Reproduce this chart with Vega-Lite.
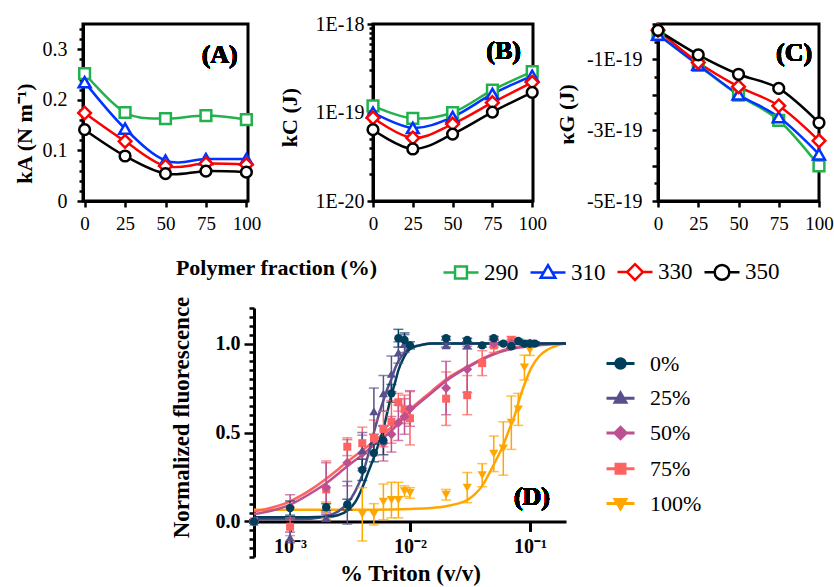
{
  "$schema": "https://vega.github.io/schema/vega-lite/v6.json",
  "padding": {"left": 11, "top": 12, "right": 0, "bottom": 0},
  "background": "white",
  "config": {
    "font": "Liberation Serif",
    "style": {"guide-label": {"font": "Liberation Serif"}, "guide-title": {"font": "Liberation Serif"}},
    "axis": {"domainColor": "black", "tickColor": "black", "labelColor": "black", "titleColor": "black", "grid": false, "labelOverlap": false, "labelFlush": false, "labelBound": false, "labelFont": "Liberation Serif", "titleFont": "Liberation Serif"},
    "legend": {"labelFont": "Liberation Serif", "labelColor": "black", "padding": 0, "symbolOpacity": 1}
  },
  "datasets": {
    "top": [
      {"T": "290", "p": 0, "kA": 0.252, "kC": 1.19e-19, "kG": -3.0e-20},
      {"T": "290", "p": 25, "kA": 0.175, "kC": 8.6e-20, "kG": -1.17e-19},
      {"T": "290", "p": 50, "kA": 0.163, "kC": 1.0e-19, "kG": -2.01e-19},
      {"T": "290", "p": 75, "kA": 0.169, "kC": 1.79e-19, "kG": -2.72e-19},
      {"T": "290", "p": 100, "kA": 0.161, "kC": 2.9e-19, "kG": -4.01e-19},
      {"T": "310", "p": 0, "kA": 0.235, "kC": 1.0e-19, "kG": -3.0e-20},
      {"T": "310", "p": 25, "kA": 0.143, "kC": 6.7e-20, "kG": -1.15e-19},
      {"T": "310", "p": 50, "kA": 0.080, "kC": 8.9e-20, "kG": -1.99e-19},
      {"T": "310", "p": 75, "kA": 0.083, "kC": 1.62e-19, "kG": -2.63e-19},
      {"T": "310", "p": 100, "kA": 0.083, "kC": 2.6e-19, "kG": -3.68e-19},
      {"T": "330", "p": 0, "kA": 0.174, "kC": 8.7e-20, "kG": -1.8e-20},
      {"T": "330", "p": 25, "kA": 0.118, "kC": 5.15e-20, "kG": -1.086e-19},
      {"T": "330", "p": 50, "kA": 0.069, "kC": 7.4e-20, "kG": -1.77e-19},
      {"T": "330", "p": 75, "kA": 0.074, "kC": 1.29e-19, "kG": -2.31e-19},
      {"T": "330", "p": 100, "kA": 0.072, "kC": 2.19e-19, "kG": -3.3e-19},
      {"T": "350", "p": 0, "kA": 0.141, "kC": 6.4e-20, "kG": -1.8e-20},
      {"T": "350", "p": 25, "kA": 0.089, "kC": 3.87e-20, "kG": -8.7e-20},
      {"T": "350", "p": 50, "kA": 0.054, "kC": 5.7e-20, "kG": -1.42e-19},
      {"T": "350", "p": 75, "kA": 0.059, "kC": 1.01e-19, "kG": -1.82e-19},
      {"T": "350", "p": 100, "kA": 0.057, "kC": 1.69e-19, "kG": -2.79e-19}
    ],
    "pts": [
      {"pf": "100%", "x": 0.002, "y": 0.06, "err": 0.05},
      {"pf": "100%", "x": 0.004, "y": 0.04, "err": 0.15},
      {"pf": "100%", "x": 0.005, "y": 0.04, "err": 0.06},
      {"pf": "100%", "x": 0.006, "y": 0.11, "err": 0.1},
      {"pf": "100%", "x": 0.007, "y": 0.12, "err": 0.1},
      {"pf": "100%", "x": 0.008, "y": 0.12, "err": 0.1},
      {"pf": "100%", "x": 0.009, "y": 0.17, "err": 0.03},
      {"pf": "100%", "x": 0.01, "y": 0.16, "err": 0.03},
      {"pf": "100%", "x": 0.02, "y": 0.15, "err": 0.03},
      {"pf": "100%", "x": 0.03, "y": 0.19, "err": 0.085},
      {"pf": "100%", "x": 0.04, "y": 0.26, "err": 0.065},
      {"pf": "100%", "x": 0.05, "y": 0.38, "err": 0.1},
      {"pf": "100%", "x": 0.06, "y": 0.41, "err": 0.15},
      {"pf": "100%", "x": 0.07, "y": 0.555, "err": 0.15},
      {"pf": "100%", "x": 0.08, "y": 0.63, "err": 0.09},
      {"pf": "100%", "x": 0.09, "y": 0.865, "err": 0.07},
      {"pf": "100%", "x": 0.1, "y": 0.963, "err": 0.03},
      {"pf": "75%", "x": 0.0005, "y": 0.0, "err": 0.01},
      {"pf": "75%", "x": 0.001, "y": -0.03, "err": 0.05},
      {"pf": "75%", "x": 0.002, "y": 0.18, "err": 0.16},
      {"pf": "75%", "x": 0.003, "y": 0.42, "err": 0.05},
      {"pf": "75%", "x": 0.004, "y": 0.44, "err": 0.09},
      {"pf": "75%", "x": 0.005, "y": 0.47, "err": 0.1},
      {"pf": "75%", "x": 0.006, "y": 0.52, "err": 0.1},
      {"pf": "75%", "x": 0.007, "y": 0.56, "err": 0.12},
      {"pf": "75%", "x": 0.008, "y": 0.67, "err": 0.05},
      {"pf": "75%", "x": 0.009, "y": 0.63, "err": 0.08},
      {"pf": "75%", "x": 0.01, "y": 0.58, "err": 0.15},
      {"pf": "75%", "x": 0.02, "y": 0.69, "err": 0.15},
      {"pf": "75%", "x": 0.03, "y": 0.71, "err": 0.11},
      {"pf": "75%", "x": 0.04, "y": 0.89, "err": 0.07},
      {"pf": "75%", "x": 0.05, "y": 0.99, "err": 0.04},
      {"pf": "75%", "x": 0.07, "y": 1.02, "err": 0.02},
      {"pf": "75%", "x": 0.1, "y": 1.0, "err": 0.01},
      {"pf": "50%", "x": 0.0005, "y": 0.0, "err": 0.01},
      {"pf": "50%", "x": 0.001, "y": 0.08, "err": 0.07},
      {"pf": "50%", "x": 0.002, "y": 0.19, "err": 0.14},
      {"pf": "50%", "x": 0.003, "y": 0.33, "err": 0.13},
      {"pf": "50%", "x": 0.004, "y": 0.385, "err": 0.1},
      {"pf": "50%", "x": 0.006, "y": 0.44, "err": 0.1},
      {"pf": "50%", "x": 0.007, "y": 0.49, "err": 0.1},
      {"pf": "50%", "x": 0.008, "y": 0.555, "err": 0.1},
      {"pf": "50%", "x": 0.009, "y": 0.59, "err": 0.1},
      {"pf": "50%", "x": 0.01, "y": 0.635, "err": 0.1},
      {"pf": "50%", "x": 0.02, "y": 0.75, "err": 0.15},
      {"pf": "50%", "x": 0.03, "y": 0.855, "err": 0.13},
      {"pf": "50%", "x": 0.05, "y": 1.0, "err": 0.02},
      {"pf": "50%", "x": 0.07, "y": 1.0, "err": 0.02},
      {"pf": "50%", "x": 0.1, "y": 1.0, "err": 0.01},
      {"pf": "25%", "x": 0.0005, "y": 0.0, "err": 0.01},
      {"pf": "25%", "x": 0.001, "y": -0.09, "err": 0.03},
      {"pf": "25%", "x": 0.002, "y": 0.02, "err": 0.02},
      {"pf": "25%", "x": 0.003, "y": 0.105, "err": 0.12},
      {"pf": "25%", "x": 0.004, "y": 0.4, "err": 0.1},
      {"pf": "25%", "x": 0.005, "y": 0.62, "err": 0.13},
      {"pf": "25%", "x": 0.006, "y": 0.72, "err": 0.1},
      {"pf": "25%", "x": 0.007, "y": 0.83, "err": 0.1},
      {"pf": "25%", "x": 0.008, "y": 0.95, "err": 0.06},
      {"pf": "25%", "x": 0.009, "y": 1.0, "err": 0.05},
      {"pf": "25%", "x": 0.02, "y": 0.99, "err": 0.01},
      {"pf": "25%", "x": 0.03, "y": 0.99, "err": 0.02},
      {"pf": "0%", "x": 0.0005, "y": 0.0, "err": 0.01},
      {"pf": "0%", "x": 0.001, "y": 0.075, "err": 0.04},
      {"pf": "0%", "x": 0.002, "y": 0.08, "err": 0.02},
      {"pf": "0%", "x": 0.003, "y": 0.095, "err": 0.03},
      {"pf": "0%", "x": 0.004, "y": 0.29, "err": 0.06},
      {"pf": "0%", "x": 0.005, "y": 0.385, "err": 0.05},
      {"pf": "0%", "x": 0.006, "y": 0.455, "err": 0.08},
      {"pf": "0%", "x": 0.007, "y": 0.72, "err": 0.05},
      {"pf": "0%", "x": 0.008, "y": 1.03, "err": 0.05},
      {"pf": "0%", "x": 0.009, "y": 1.02, "err": 0.04},
      {"pf": "0%", "x": 0.01, "y": 0.99, "err": 0.02},
      {"pf": "0%", "x": 0.02, "y": 1.03, "err": 0.01},
      {"pf": "0%", "x": 0.03, "y": 1.02, "err": 0.01},
      {"pf": "0%", "x": 0.04, "y": 0.99, "err": 0.01},
      {"pf": "0%", "x": 0.05, "y": 1.03, "err": 0.01},
      {"pf": "0%", "x": 0.06, "y": 1.0, "err": 0.01},
      {"pf": "0%", "x": 0.07, "y": 0.985, "err": 0.01},
      {"pf": "0%", "x": 0.08, "y": 1.015, "err": 0.01},
      {"pf": "0%", "x": 0.09, "y": 1.0, "err": 0.01},
      {"pf": "0%", "x": 0.1, "y": 1.0, "err": 0.01},
      {"pf": "0%", "x": 0.11, "y": 1.0, "err": 0.01}
    ],
    "fit": [
      {"pf": "100%", "x": 0.0005, "y": 0.065}, {"pf": "100%", "x": 0.005, "y": 0.066}, {"pf": "100%", "x": 0.01, "y": 0.07}, {"pf": "100%", "x": 0.015, "y": 0.075}, {"pf": "100%", "x": 0.02, "y": 0.085}, {"pf": "100%", "x": 0.025, "y": 0.1}, {"pf": "100%", "x": 0.03, "y": 0.12}, {"pf": "100%", "x": 0.035, "y": 0.155}, {"pf": "100%", "x": 0.04, "y": 0.2}, {"pf": "100%", "x": 0.045, "y": 0.26}, {"pf": "100%", "x": 0.05, "y": 0.32}, {"pf": "100%", "x": 0.055, "y": 0.375}, {"pf": "100%", "x": 0.06, "y": 0.43}, {"pf": "100%", "x": 0.067, "y": 0.515}, {"pf": "100%", "x": 0.075, "y": 0.6}, {"pf": "100%", "x": 0.082, "y": 0.69}, {"pf": "100%", "x": 0.09, "y": 0.77}, {"pf": "100%", "x": 0.103, "y": 0.865}, {"pf": "100%", "x": 0.12, "y": 0.93}, {"pf": "100%", "x": 0.14, "y": 0.965}, {"pf": "100%", "x": 0.17, "y": 0.99}, {"pf": "100%", "x": 0.2, "y": 1.0},
      {"pf": "75%", "x": 0.0005, "y": 0.055}, {"pf": "75%", "x": 0.001, "y": 0.113}, {"pf": "75%", "x": 0.0015, "y": 0.18}, {"pf": "75%", "x": 0.002, "y": 0.24}, {"pf": "75%", "x": 0.003, "y": 0.335}, {"pf": "75%", "x": 0.004, "y": 0.4}, {"pf": "75%", "x": 0.005, "y": 0.45}, {"pf": "75%", "x": 0.007, "y": 0.53}, {"pf": "75%", "x": 0.01, "y": 0.63}, {"pf": "75%", "x": 0.015, "y": 0.73}, {"pf": "75%", "x": 0.02, "y": 0.8}, {"pf": "75%", "x": 0.03, "y": 0.87}, {"pf": "75%", "x": 0.05, "y": 0.945}, {"pf": "75%", "x": 0.07, "y": 0.975}, {"pf": "75%", "x": 0.1, "y": 0.99}, {"pf": "75%", "x": 0.2, "y": 1.0},
      {"pf": "50%", "x": 0.0005, "y": 0.04}, {"pf": "50%", "x": 0.001, "y": 0.094}, {"pf": "50%", "x": 0.0015, "y": 0.16}, {"pf": "50%", "x": 0.002, "y": 0.215}, {"pf": "50%", "x": 0.003, "y": 0.31}, {"pf": "50%", "x": 0.004, "y": 0.375}, {"pf": "50%", "x": 0.005, "y": 0.43}, {"pf": "50%", "x": 0.007, "y": 0.51}, {"pf": "50%", "x": 0.01, "y": 0.62}, {"pf": "50%", "x": 0.015, "y": 0.72}, {"pf": "50%", "x": 0.02, "y": 0.79}, {"pf": "50%", "x": 0.03, "y": 0.865}, {"pf": "50%", "x": 0.05, "y": 0.94}, {"pf": "50%", "x": 0.07, "y": 0.97}, {"pf": "50%", "x": 0.1, "y": 0.985}, {"pf": "50%", "x": 0.2, "y": 1.0},
      {"pf": "25%", "x": 0.0005, "y": 0.012}, {"pf": "25%", "x": 0.001, "y": 0.012}, {"pf": "25%", "x": 0.0015, "y": 0.015}, {"pf": "25%", "x": 0.002, "y": 0.03}, {"pf": "25%", "x": 0.0025, "y": 0.055}, {"pf": "25%", "x": 0.003, "y": 0.1}, {"pf": "25%", "x": 0.0035, "y": 0.17}, {"pf": "25%", "x": 0.004, "y": 0.26}, {"pf": "25%", "x": 0.0045, "y": 0.38}, {"pf": "25%", "x": 0.005, "y": 0.5}, {"pf": "25%", "x": 0.0055, "y": 0.6}, {"pf": "25%", "x": 0.006, "y": 0.68}, {"pf": "25%", "x": 0.0066, "y": 0.76}, {"pf": "25%", "x": 0.007, "y": 0.8}, {"pf": "25%", "x": 0.0075, "y": 0.86}, {"pf": "25%", "x": 0.008, "y": 0.9}, {"pf": "25%", "x": 0.009, "y": 0.95}, {"pf": "25%", "x": 0.01, "y": 0.975}, {"pf": "25%", "x": 0.012, "y": 0.99}, {"pf": "25%", "x": 0.015, "y": 1.0}, {"pf": "25%", "x": 0.2, "y": 1.0},
      {"pf": "0%", "x": 0.0005, "y": 0.023}, {"pf": "0%", "x": 0.001, "y": 0.023}, {"pf": "0%", "x": 0.002, "y": 0.026}, {"pf": "0%", "x": 0.0025, "y": 0.035}, {"pf": "0%", "x": 0.003, "y": 0.06}, {"pf": "0%", "x": 0.0035, "y": 0.11}, {"pf": "0%", "x": 0.004, "y": 0.19}, {"pf": "0%", "x": 0.0045, "y": 0.28}, {"pf": "0%", "x": 0.005, "y": 0.36}, {"pf": "0%", "x": 0.0055, "y": 0.44}, {"pf": "0%", "x": 0.006, "y": 0.52}, {"pf": "0%", "x": 0.0065, "y": 0.62}, {"pf": "0%", "x": 0.007, "y": 0.71}, {"pf": "0%", "x": 0.0075, "y": 0.78}, {"pf": "0%", "x": 0.008, "y": 0.85}, {"pf": "0%", "x": 0.009, "y": 0.93}, {"pf": "0%", "x": 0.01, "y": 0.97}, {"pf": "0%", "x": 0.012, "y": 0.99}, {"pf": "0%", "x": 0.015, "y": 1.0}, {"pf": "0%", "x": 0.2, "y": 1.0}
    ]
  },
  "spacing": 9,
  "resolve": {"scale": {"color": "independent", "stroke": "independent", "fill": "independent", "shape": "independent"}, "legend": {"color": "independent", "stroke": "independent", "fill": "independent", "shape": "independent"}},
  "vconcat": [
    {
      "bounds": "flush",
      "spacing": 125,
      "resolve": {"scale": {"stroke": "independent", "shape": "independent", "color": "independent"}, "legend": {"stroke": "independent", "shape": "independent", "color": "independent"}},
      "hconcat": [
        {
          "width": 165, "height": 177,
          "view": {"stroke": "black", "strokeWidth": 3},
          "data": {"name": "top"},
          "encoding": {
            "x": {"field": "p", "type": "quantitative", "scale": {"domain": [-1, 101], "nice": false, "zero": false},
              "axis": {"values": [0, 25, 50, 75, 100], "format": "d", "tickSize": 6, "tickWidth": 2.5, "domainWidth": 3, "labelFontSize": 19, "labelPadding": 7,
                "title": "Polymer fraction (%)", "titleFontSize": 22, "titleFontWeight": "bold", "titleX": 193, "titleY": 73, "titleBaseline": "alphabetic", "titleAlign": "center"}},
            "y": {"field": "kA", "type": "quantitative", "scale": {"domain": [0, 0.35], "nice": false},
              "axis": {"values": [0, 0.02, 0.04, 0.06, 0.08, 0.1, 0.12, 0.14, 0.16, 0.18, 0.2, 0.22, 0.24, 0.26, 0.28, 0.3, 0.32, 0.34],
                "labelExpr": "abs(datum.value*10-round(datum.value*10))<0.001 ? (datum.value==0 ? '0' : format(datum.value,'.1f')) : ''",
                "tickSize": {"condition": {"test": "abs(datum.value*10-round(datum.value*10))<0.001", "value": 6}, "value": 4},
                "tickWidth": 2.5, "domainWidth": 3, "labelFontSize": 20, "labelPadding": 10,
                "title": "kA (N m⁻¹)", "titleFontSize": 22, "titleFontWeight": "bold", "titleX": -47, "titleY": 109}}
          },
          "layer": [
            {"mark": {"type": "line", "interpolate": "cardinal", "strokeWidth": 2.5}, "encoding": {"stroke": {"field": "T", "type": "nominal", "scale": {"range": ["#22b14c", "#0033ff", "#ff0000", "#000000"]}, "legend": null}}},
            {"transform": [{"filter": "datum.T == '290'"}], "mark": {"type": "point", "shape": "square", "filled": true, "fill": "white", "strokeWidth": 2.5, "size": 115, "opacity": 1}, "encoding": {"stroke": {"field": "T", "type": "nominal", "legend": null}}},
            {"transform": [{"filter": "datum.T == '310'"}], "mark": {"type": "point", "shape": "triangle-up", "filled": true, "fill": "white", "strokeWidth": 2.5, "size": 140, "opacity": 1}, "encoding": {"stroke": {"field": "T", "type": "nominal", "legend": null}}},
            {"transform": [{"filter": "datum.T == '330'"}], "mark": {"type": "point", "shape": "diamond", "filled": true, "fill": "white", "strokeWidth": 2.5, "size": 160, "opacity": 1}, "encoding": {"stroke": {"field": "T", "type": "nominal", "legend": null}}},
            {"transform": [{"filter": "datum.T == '350'"}], "mark": {"type": "point", "shape": "circle", "filled": true, "fill": "white", "strokeWidth": 2.5, "size": 115, "opacity": 1}, "encoding": {"stroke": {"field": "T", "type": "nominal", "legend": null}}},
            {"mark": {"type": "text", "fontSize": 26, "fontWeight": "bold", "font": "Liberation Serif", "align": "center", "baseline": "middle", "color": "black"}, "encoding": {"x": {"datum": 83.5}, "y": {"datum": 0.289}, "text": {"value": "(A)"}}},
            {"mark": {"type": "point", "filled": false, "strokeWidth": 2.5, "opacity": 0},
              "encoding": {
                "color": {"field": "T", "type": "nominal", "scale": {"domain": ["290", "310", "330", "350"], "range": ["#22b14c", "#0033ff", "#ff0000", "#000000"]},
                  "legend": {"orient": "none", "legendX": 359, "legendY": 229, "direction": "horizontal", "title": null, "labelFont": "Liberation Serif", "labelFontWeight": "normal", "labelFontSize": 23, "symbolSize": 1225, "symbolStrokeWidth": 2.5, "labelOffset": 4, "columnPadding": 6, "symbolOpacity": 1}},
                "shape": {"field": "T", "type": "nominal", "scale": {"domain": ["290", "310", "330", "350"], "range": [
                  "M-1,0H-0.34M0.34,0H1M-0.34,-0.34H0.34V0.34H-0.34Z",
                  "M-1,0H-0.24M0.24,0H1M0,-0.42L0.42,0.3H-0.42Z",
                  "M-1,0H-0.45M0.45,0H1M0,-0.45L0.45,0L0,0.45L-0.45,0Z",
                  "M-1,0H-0.42M0.42,0H1M-0.42,0A0.42,0.42 0 1,0 0.42,0A0.42,0.42 0 1,0 -0.42,0Z"]},
                  "legend": {"orient": "none", "legendX": 359, "legendY": 229, "direction": "horizontal", "title": null, "labelFont": "Liberation Serif", "labelFontWeight": "normal", "labelFontSize": 23, "symbolSize": 1225, "symbolStrokeWidth": 2.5, "labelOffset": 4, "columnPadding": 6, "symbolOpacity": 1}}
              }}
          ]
        },
        {
          "width": 160, "height": 177,
          "view": {"stroke": "black", "strokeWidth": 3},
          "data": {"name": "top"},
          "encoding": {
            "x": {"field": "p", "type": "quantitative", "scale": {"domain": [0, 100.5], "nice": false, "zero": false},
              "axis": {"values": [0, 25, 50, 75, 100], "format": "d", "tickSize": 6, "tickWidth": 2.5, "domainWidth": 3, "labelFontSize": 19, "labelPadding": 7, "title": null}},
            "y": {"field": "kC", "type": "quantitative", "scale": {"type": "log", "domain": [1e-20, 1e-18], "nice": false},
              "axis": {"values": [1e-20, 2e-20, 3e-20, 4e-20, 5e-20, 6e-20, 7e-20, 8e-20, 9e-20, 1e-19, 2e-19, 3e-19, 4e-19, 5e-19, 6e-19, 7e-19, 8e-19, 9e-19, 1e-18],
                "labelExpr": "abs(log(datum.value)/LN10 - round(log(datum.value)/LN10)) < 0.01 ? '1E' + round(log(datum.value)/LN10) : ''",
                "tickSize": {"condition": {"test": "abs(log(datum.value)/LN10 - round(log(datum.value)/LN10)) < 0.01", "value": 6}, "value": 4},
                "tickWidth": 2.5, "domainWidth": 3, "labelFontSize": 20, "labelPadding": 3,
                "title": "kC (J)", "titleFontSize": 22, "titleFontWeight": "bold", "titleX": -72, "titleY": 93}}
          },
          "layer": [
            {"mark": {"type": "line", "interpolate": "cardinal", "strokeWidth": 2.5}, "encoding": {"stroke": {"field": "T", "type": "nominal", "scale": {"range": ["#22b14c", "#0033ff", "#ff0000", "#000000"]}, "legend": null}}},
            {"transform": [{"filter": "datum.T == '290'"}], "mark": {"type": "point", "shape": "square", "filled": true, "fill": "white", "strokeWidth": 2.5, "size": 115, "opacity": 1}, "encoding": {"stroke": {"field": "T", "type": "nominal", "legend": null}}},
            {"transform": [{"filter": "datum.T == '310'"}], "mark": {"type": "point", "shape": "triangle-up", "filled": true, "fill": "white", "strokeWidth": 2.5, "size": 140, "opacity": 1}, "encoding": {"stroke": {"field": "T", "type": "nominal", "legend": null}}},
            {"transform": [{"filter": "datum.T == '330'"}], "mark": {"type": "point", "shape": "diamond", "filled": true, "fill": "white", "strokeWidth": 2.5, "size": 160, "opacity": 1}, "encoding": {"stroke": {"field": "T", "type": "nominal", "legend": null}}},
            {"transform": [{"filter": "datum.T == '350'"}], "mark": {"type": "point", "shape": "circle", "filled": true, "fill": "white", "strokeWidth": 2.5, "size": 115, "opacity": 1}, "encoding": {"stroke": {"field": "T", "type": "nominal", "legend": null}}},
            {"mark": {"type": "text", "fontSize": 26, "fontWeight": "bold", "font": "Liberation Serif", "align": "center", "baseline": "middle", "color": "black"}, "encoding": {"x": {"datum": 82}, "y": {"datum": 4.9e-19}, "text": {"value": "(B)"}}}
          ]
        },
        {
          "width": 161, "height": 177,
          "view": {"stroke": "black", "strokeWidth": 3},
          "data": {"name": "top"},
          "encoding": {
            "x": {"field": "p", "type": "quantitative", "scale": {"domain": [0, 100], "nice": false, "zero": false},
              "axis": {"values": [0, 25, 50, 75, 100], "format": "d", "tickSize": 6, "tickWidth": 2.5, "domainWidth": 3, "labelFontSize": 19, "labelPadding": 7, "title": null}},
            "y": {"field": "kG", "type": "quantitative", "scale": {"domain": [-5e-19, 0], "nice": false, "zero": false},
              "axis": {"values": [-5e-19, -4.5e-19, -4e-19, -3.5e-19, -3e-19, -2.5e-19, -2e-19, -1.5e-19, -1e-19, -5e-20, 0],
                "labelExpr": "abs(datum.value/1e-19 + 1) < 0.01 ? '-1E-19' : abs(datum.value/1e-19 + 3) < 0.01 ? '-3E-19' : abs(datum.value/1e-19 + 5) < 0.01 ? '-5E-19' : ''",
                "tickSize": {"condition": {"test": "abs(datum.value/1e-19 - round(datum.value/1e-19)) < 0.01", "value": 6}, "value": 4},
                "tickWidth": 2.5, "domainWidth": 3, "labelFontSize": 20, "labelPadding": 10,
                "title": "κG (J)", "titleFontSize": 22, "titleFontWeight": "bold", "titleX": -80, "titleY": 90}}
          },
          "layer": [
            {"mark": {"type": "line", "interpolate": "cardinal", "strokeWidth": 2.5}, "encoding": {"stroke": {"field": "T", "type": "nominal", "scale": {"range": ["#22b14c", "#0033ff", "#ff0000", "#000000"]}, "legend": null}}},
            {"transform": [{"filter": "datum.T == '290'"}], "mark": {"type": "point", "shape": "square", "filled": true, "fill": "white", "strokeWidth": 2.5, "size": 115, "opacity": 1}, "encoding": {"stroke": {"field": "T", "type": "nominal", "legend": null}}},
            {"transform": [{"filter": "datum.T == '310'"}], "mark": {"type": "point", "shape": "triangle-up", "filled": true, "fill": "white", "strokeWidth": 2.5, "size": 140, "opacity": 1}, "encoding": {"stroke": {"field": "T", "type": "nominal", "legend": null}}},
            {"transform": [{"filter": "datum.T == '330'"}], "mark": {"type": "point", "shape": "diamond", "filled": true, "fill": "white", "strokeWidth": 2.5, "size": 160, "opacity": 1}, "encoding": {"stroke": {"field": "T", "type": "nominal", "legend": null}}},
            {"transform": [{"filter": "datum.T == '350'"}], "mark": {"type": "point", "shape": "circle", "filled": true, "fill": "white", "strokeWidth": 2.5, "size": 115, "opacity": 1}, "encoding": {"stroke": {"field": "T", "type": "nominal", "legend": null}}},
            {"mark": {"type": "text", "fontSize": 26, "fontWeight": "bold", "font": "Liberation Serif", "align": "center", "baseline": "middle", "color": "black"}, "encoding": {"x": {"datum": 84.5}, "y": {"datum": -0.83e-19}, "text": {"value": "(C)"}}}
          ]
        }
      ]
    },
    {
      "bounds": "flush",
      "spacing": 170,
      "resolve": {"scale": {"fill": "independent", "stroke": "independent", "shape": "independent", "color": "independent"}, "legend": {"fill": "independent", "stroke": "independent", "shape": "independent", "color": "independent"}},
      "hconcat": [
        {"width": 1, "height": 1, "view": {"stroke": null}, "data": {"values": [{"v": 0}]}, "mark": {"type": "point", "opacity": 0}},
        {
          "width": 312, "height": 249,
          "view": {"stroke": null},
          "encoding": {
            "x": {"field": "x", "type": "quantitative", "scale": {"type": "log", "domain": [0.0005, 0.2], "nice": false},
              "axis": {"values": [0.001, 0.01, 0.1], "labelExpr": "datum.value < 0.005 ? '10⁻³' : datum.value < 0.05 ? '10⁻²' : '10⁻¹'",
                "offset": -35.6, "domainWidth": 3, "tickSize": 10, "tickWidth": 3, "labelFontSize": 20, "labelFontWeight": "bold", "labelPadding": 5,
                "title": "% Triton (v/v)", "titleFontSize": 23, "titleFontWeight": "bold", "titleY": 41}},
            "y": {"field": "y", "type": "quantitative", "scale": {"domain": [-0.2, 1.2], "nice": false, "zero": false},
              "axis": {"values": [-0.2, -0.15, -0.1, -0.05, 0, 0.05, 0.1, 0.15, 0.2, 0.25, 0.3, 0.35, 0.4, 0.45, 0.5, 0.55, 0.6, 0.65, 0.7, 0.75, 0.8, 0.85, 0.9, 0.95, 1, 1.05, 1.1, 1.15, 1.2],
                "labelExpr": "abs(datum.value) < 1e-6 ? '0.0' : abs(datum.value-0.5) < 1e-6 ? '0.5' : abs(datum.value-1) < 1e-6 ? '1.0' : ''",
                "tickSize": {"condition": {"test": "abs(datum.value*2 - round(datum.value*2)) < 1e-6", "value": 10}, "value": 5},
                "tickWidth": 2.5, "domainWidth": 3, "labelFontSize": 20, "labelFontWeight": "bold", "labelPadding": 4,
                "title": "Normalized fluorescence", "titleFontSize": 23, "titleFontWeight": "bold", "titleX": -61, "titleY": 109}}
          },
          "layer": [
            {"data": {"name": "fit"}, "mark": {"type": "line", "interpolate": "monotone", "strokeWidth": 2.5}, "encoding": {"color": {"field": "pf", "type": "nominal", "scale": {"range": ["#003f5c", "#ffa600", "#58508d", "#bc5090", "#ff6361"]}, "legend": null}}},
            {"data": {"name": "pts"}, "mark": {"type": "errorbar", "ticks": true, "size": 10, "thickness": 1.5}, "encoding": {"yError": {"field": "err"}, "color": {"field": "pf", "type": "nominal", "legend": null}}},
            {"data": {"name": "pts"}, "transform": [{"filter": "datum.pf == '100%'"}], "mark": {"type": "point", "shape": "triangle-down", "filled": true, "size": 85, "opacity": 1}, "encoding": {"color": {"field": "pf", "type": "nominal", "legend": null}}},
            {"data": {"name": "pts"}, "transform": [{"filter": "datum.pf == '75%'"}], "mark": {"type": "point", "shape": "square", "filled": true, "size": 64, "opacity": 1}, "encoding": {"color": {"field": "pf", "type": "nominal", "legend": null}}},
            {"data": {"name": "pts"}, "transform": [{"filter": "datum.pf == '50%'"}], "mark": {"type": "point", "shape": "diamond", "filled": true, "size": 100, "opacity": 1}, "encoding": {"color": {"field": "pf", "type": "nominal", "legend": null}}},
            {"data": {"name": "pts"}, "transform": [{"filter": "datum.pf == '25%'"}], "mark": {"type": "point", "shape": "triangle-up", "filled": true, "size": 85, "opacity": 1}, "encoding": {"color": {"field": "pf", "type": "nominal", "legend": null}}},
            {"data": {"name": "pts"}, "transform": [{"filter": "datum.pf == '0%'"}], "mark": {"type": "point", "shape": "circle", "filled": true, "size": 70, "opacity": 1}, "encoding": {"color": {"field": "pf", "type": "nominal", "legend": null}}},
            {"data": {"name": "pts"}, "mark": {"type": "text", "fontSize": 26, "fontWeight": "bold", "font": "Liberation Serif", "align": "center", "baseline": "middle", "color": "black"}, "encoding": {"x": {"datum": 0.104}, "y": {"datum": 0.135}, "text": {"value": "(D)"}}},
            {"data": {"name": "pts"}, "mark": {"type": "point", "filled": true, "strokeWidth": 3, "opacity": 0},
              "encoding": {
                "fill": {"field": "pf", "type": "nominal", "scale": {"domain": ["0%", "25%", "50%", "75%", "100%"], "range": ["#003f5c", "#58508d", "#bc5090", "#ff6361", "#ffa600"]},
                  "legend": {"orient": "none", "legendX": 351, "legendY": 40, "direction": "vertical", "title": null, "labelFont": "Liberation Serif", "labelFontWeight": "normal", "labelFontSize": 22, "symbolSize": 784, "symbolStrokeWidth": 3, "labelOffset": 14, "rowPadding": 7.75, "symbolOpacity": 1}},
                "stroke": {"field": "pf", "type": "nominal", "scale": {"domain": ["0%", "25%", "50%", "75%", "100%"], "range": ["#003f5c", "#58508d", "#bc5090", "#ff6361", "#ffa600"]},
                  "legend": {"orient": "none", "legendX": 351, "legendY": 40, "direction": "vertical", "title": null, "labelFont": "Liberation Serif", "labelFontWeight": "normal", "labelFontSize": 22, "symbolSize": 784, "symbolStrokeWidth": 3, "labelOffset": 14, "rowPadding": 7.75, "symbolOpacity": 1}},
                "shape": {"field": "pf", "type": "nominal", "scale": {"domain": ["0%", "25%", "50%", "75%", "100%"], "range": [
                  "M-1,0H1M-0.34,0A0.34,0.34 0 1,0 0.34,0A0.34,0.34 0 1,0 -0.34,0Z",
                  "M-1,0H1M0,-0.38L0.38,0.28H-0.38Z",
                  "M-1,0H1M0,-0.4L0.4,0L0,0.4L-0.4,0Z",
                  "M-1,0H1M-0.32,-0.32H0.32V0.32H-0.32Z",
                  "M-1,0H1M0,0.38L0.38,-0.28H-0.38Z"]},
                  "legend": {"orient": "none", "legendX": 351, "legendY": 40, "direction": "vertical", "title": null, "labelFont": "Liberation Serif", "labelFontWeight": "normal", "labelFontSize": 22, "symbolSize": 784, "symbolStrokeWidth": 3, "labelOffset": 14, "rowPadding": 7.75, "symbolOpacity": 1}}
              }}
          ]
        }
      ]
    }
  ]
}
